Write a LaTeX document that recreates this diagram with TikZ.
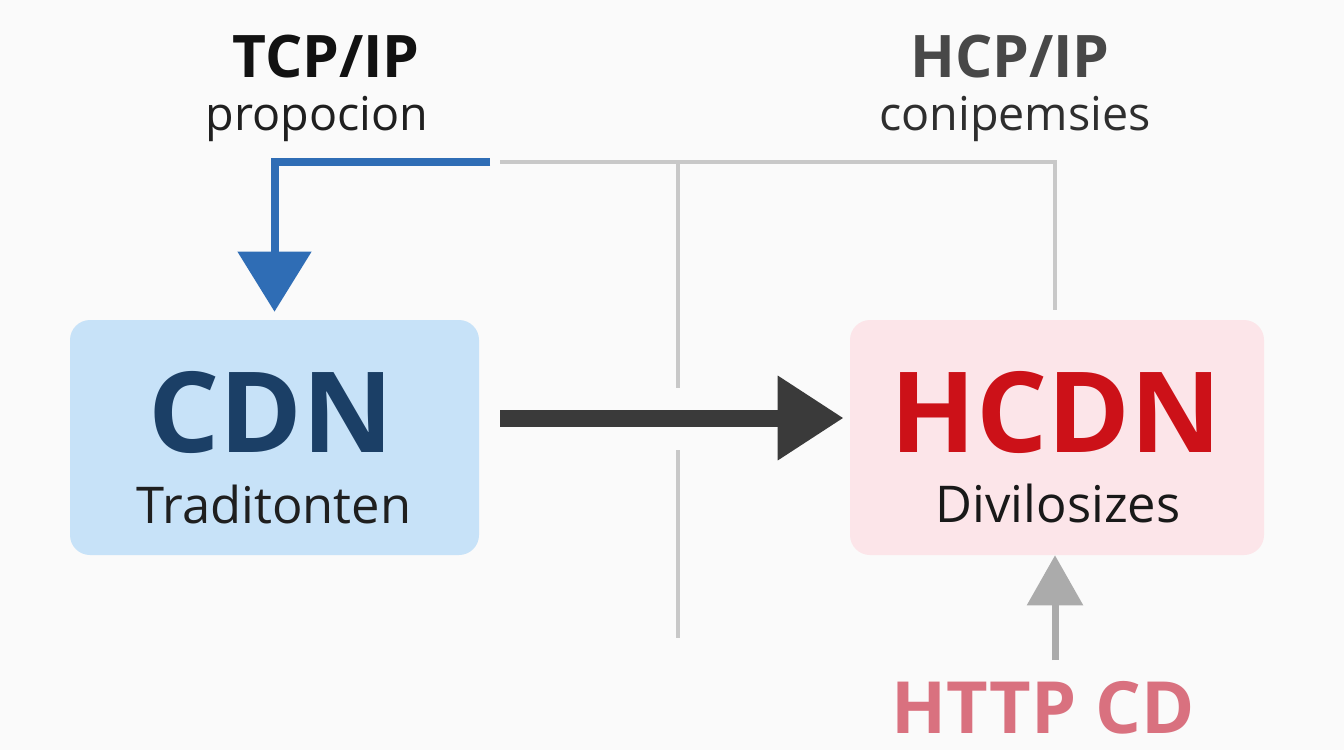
\documentclass[tikz,border=0pt]{standalone}
\usepackage{fontspec}
\setmainfont{Open Sans}
\usetikzlibrary{arrows.meta}
\definecolor{bg}{HTML}{FAFAFA}
\definecolor{cdnfill}{HTML}{C7E2F8}
\definecolor{hcdnfill}{HTML}{FCE5E9}
\definecolor{blueln}{HTML}{2F6DB5}
\definecolor{grayln}{HTML}{C8C8C8}
\definecolor{darkln}{HTML}{3A3A3A}
\definecolor{grayup}{HTML}{ABABAB}
\definecolor{cdntext}{HTML}{1B3F66}
\definecolor{hcdntext}{HTML}{CC1118}
\definecolor{httptext}{HTML}{D9717F}
\definecolor{hcptext}{HTML}{484848}
\begin{document}
\begin{tikzpicture}[x=0.75pt,y=-0.75pt,
  boxstyle/.style={rounded corners=15pt, minimum width=306.75pt, minimum height=176.25pt, inner sep=0pt},
  bigtitle/.style={anchor=base, inner sep=0pt, font=\fontsize{84}{90}\selectfont\bfseries},
  subtitle/.style={anchor=base, inner sep=0pt, font=\fontsize{38}{44}\selectfont},
  toptitle/.style={anchor=base, inner sep=0pt, font=\fontsize{44}{50}\selectfont\bfseries},
  topsub/.style={anchor=base, inner sep=0pt, font=\fontsize{35}{40}\selectfont},
  bluearrow/.style={draw=blueln, line width=6pt, line join=miter, -{Triangle[length=45pt,width=54pt]}},
  grayline/.style={draw=grayln, line width=3pt},
  darkarrow/.style={draw=darkln, line width=12.75pt, -{Triangle[length=49.5pt,width=60pt]}},
  grayarrow/.style={draw=grayup, line width=5.25pt, -{Triangle[length=37.5pt,width=41pt]}}
]
\fill[bg] (0,0) rectangle (1344,750);
\useasboundingbox (0,0) rectangle (1344,750);

% boxes
\node[boxstyle, fill=cdnfill] (cdn) at (274.5,437.5) {};
\node[boxstyle, fill=hcdnfill, minimum width=310.5pt] (hcdn) at (1057,437.5) {};

% top labels
\node[toptitle, text=black!93] (tcp) at (326,77) {TCP/IP};
\node[topsub, text=black!88] (prop) at (317,130) {propocion};
\node[toptitle, text=hcptext] (hcp) at (1010,77) {HCP/IP};
\node[topsub, text=black!82] (conip) at (1015,130) {conipemsies};

% gray lines
\coordinate (g1) at (500,162);
\coordinate (g2) at (1055,162);
\coordinate (g3) at (1055,310);
\coordinate (v1) at (678,162);
\coordinate (v2) at (678,388);
\coordinate (v3) at (678,450);
\coordinate (v4) at (678,638);
\draw[grayline] (g1) -- (g2) -- (g3);
\draw[grayline] (v1) -- (v2);
\draw[grayline] (v3) -- (v4);

% blue arrow
\coordinate (bstart) at (490,162);
\draw[bluearrow] (bstart) -| ([yshift=6pt]cdn.north);

% dark arrow
\coordinate (ay) at (0,418);
\draw[darkarrow, shorten <=15.75pt, shorten >=4.5pt] (cdn.east |- ay) -- (hcdn.west |- ay);

% gray up arrow
\coordinate (hs) at (1055,660);
\draw[grayarrow] (hs) -- (hs |- hcdn.south);

% box texts
\node[bigtitle, text=cdntext] (cdnt) at (271,452) {CDN};
\node[subtitle, text=black!88] (trad) at (274,523) {Traditonten};
\node[bigtitle, text=hcdntext] (hcdnt) at (1056,452) {HCDN};
\node[subtitle, text=black!90] (divi) at (1058,522) {Divilosizes};

% bottom label
\node[anchor=base, inner sep=0pt, text depth=0pt, font=\fontsize{54}{58}\selectfont\bfseries, text=httptext] (http) at (1043,733) {HTTP CD};
\end{tikzpicture}
\end{document}
